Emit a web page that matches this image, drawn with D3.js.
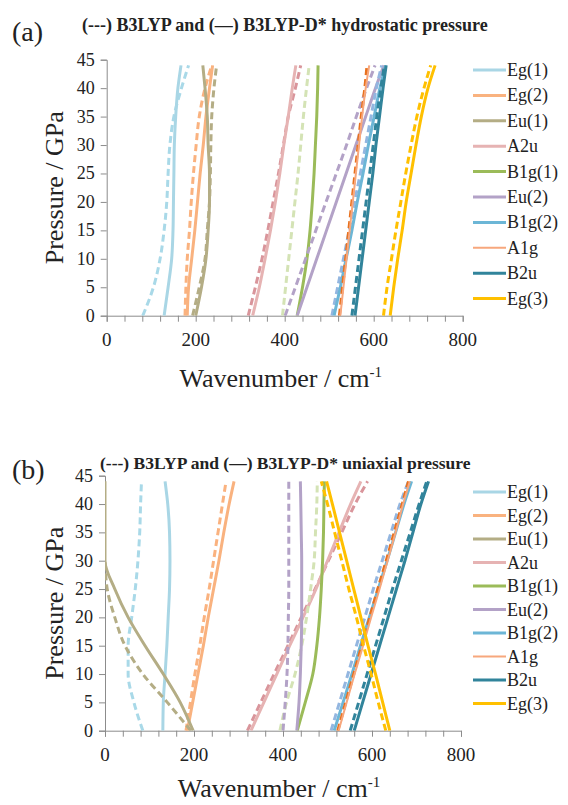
<!DOCTYPE html>
<html>
<head>
<meta charset="utf-8">
<script src="https://cdn.jsdelivr.net/npm/d3@7"></script>
<style>
  body { margin: 0; background: #fff; }
</style>
</head>
<body>
<div id="chart"></div>
<script>
// pressure points (GPa) shared by every mode
var pressures = [0, 5, 10, 15, 20, 25, 30, 35, 40, 44]
var modes = ['Eg(1)', 'Eg(2)', 'Eu(1)', 'A2u', 'B1g(1)', 'Eu(2)', 'B1g(2)', 'A1g', 'B2u', 'Eg(3)']
var xTicks = [0, 200, 400, 600, 800]
var yTicks = [0, 5, 10, 15, 20, 25, 30, 35, 40, 45]

// (a) hydrostatic, B3LYP (dashed)
var hydroB3LYP = [
  [81, 105, 120, 129, 135, 138, 142, 151, 168, 184],
  [176, 178, 181, 186, 190, 195, 201, 208, 221, 236],
  [193, 208, 221, 226, 231, 233, 234, 236, 241, 247],
  [318, 334, 349, 362, 374, 386, 397, 408, 424, 436],
  [395, 402, 409, 416, 423, 430, 436, 442, 449, 455],
  [401, 424, 447, 470, 493, 516, 539, 561, 584, 603],
  [506, 519, 532, 545, 557, 570, 582, 594, 606, 618],
  [523, 530, 537, 544, 551, 558, 565, 572, 580, 585],
  [551, 559, 567, 575, 583, 591, 599, 607, 616, 624],
  [622, 630, 640, 650, 661, 672, 684, 697, 713, 728]
]
// (a) hydrostatic, B3LYP-D* (solid)
var hydroD = [
  [129, 138, 146, 149, 150, 151, 152, 155, 160, 167],
  [181, 184, 191, 198, 204, 210, 217, 223, 231, 238],
  [200, 213, 223, 228, 231, 231, 228, 226, 221, 216],
  [328, 343, 356, 368, 379, 389, 398, 408, 417, 425],
  [428, 440, 450, 457, 462, 466, 469, 472, 474, 475],
  [428, 450, 472, 494, 516, 538, 560, 582, 604, 623],
  [511, 525, 538, 551, 563, 576, 588, 601, 614, 627],
  [525, 532, 539, 546, 553, 560, 567, 574, 582, 590],
  [558, 566, 574, 582, 590, 598, 605, 613, 621, 628],
  [637, 645, 654, 664, 673, 684, 695, 707, 722, 738]
]
// (b) uniaxial, B3LYP (dashed)
var uniB3LYP = [
  [85, 65, 52, 52, 60, 68, 74, 78, 80, 82],
  [182, 192, 202, 213, 223, 234, 244, 254, 264, 272],
  [193, 140, 85, 45, 22, 5, 0, null, null, null],
  [320, 350, 380, 411, 441, 472, 502, 532, 562, 590],
  [393, 408, 427, 442, 453, 462, 470, 473, 476, 477],
  [400, 405, 409, 411, 412, 413, 413, 413, 413, 413],
  [508, 527, 546, 565, 584, 603, 623, 643, 663, 682],
  [523, 541, 559, 577, 595, 613, 632, 650, 668, 682],
  [551, 570, 589, 608, 627, 646, 666, 686, 706, 723],
  [631, 614, 598, 581, 565, 548, 532, 516, 500, 486]
]
// (b) uniaxial, B3LYP-D* (solid)
var uniD = [
  [130, 131, 135, 139, 142, 145, 146, 145, 141, 135],
  [185, 197, 209, 221, 232, 244, 256, 267, 279, 290],
  [198, 169, 131, 90, 52, 22, 0, 0, 0, 0],
  [328, 357, 386, 415, 445, 474, 500, 526, 552, 575],
  [432, 450, 467, 476, 482, 486, 489, 491, 492, 493],
  [431, 436, 439, 441, 442, 442, 442, 441, 440, 439],
  [515, 535, 555, 574, 594, 614, 634, 653, 672, 689],
  [525, 543, 561, 580, 598, 617, 635, 653, 670, 685],
  [560, 579, 598, 617, 636, 655, 674, 692, 710, 727],
  [640, 624, 608, 591, 575, 559, 543, 527, 511, 498]
]

var solidColors = ['#a9d6e5', '#f9b27f', '#b4ad85', '#e6b3b3', '#9bbb59', '#b3a2c7', '#6cb6d6', '#f7a77d', '#31849b', '#ffc000']
var dashColors = ['#a9d9e8', '#fab27f', '#b4ad85', '#d9959b', '#d4e3b5', '#b3a2c7', '#93b6e0', '#e8711e', '#31849b', '#ffc000']

var width = 568
var height = 805
var serif = 'Liberation Serif, Times New Roman, DejaVu Serif, serif'

var svg = d3.select('#chart')
  .append('svg')
  .attr('width', width)
  .attr('height', height)

svg.append('rect').attr('width', width).attr('height', height).attr('fill', '#fff')

// every label goes through here so it gets the serif face
function label(parent, size) {
  return parent.append('text')
    .attr('font-family', serif)
    .attr('font-size', size)
    .attr('fill', '#222')
}

function drawPanel(opt) {
  var x = d3.scaleLinear().domain([0, 800]).range([opt.left, opt.left + 356])
  var y = d3.scaleLinear().domain([0, 45]).range([opt.bottom, opt.top])
  var g = svg.append('g')

  // letter + title
  label(g, 28)
    .attr('x', 12)
    .attr('y', opt.letterY)
    .text(opt.letter)
  label(g, opt.titleSize)
    .attr('x', opt.titleX)
    .attr('y', opt.titleY)
    .attr('font-weight', 'bold')
    .text(opt.title)

  // clip so lines sitting on the axis show only half
  g.append('clipPath')
    .attr('id', 'clip' + opt.letter.charAt(1))
    .append('rect')
    .attr('x', opt.left).attr('y', opt.top - 4)
    .attr('width', 360).attr('height', opt.bottom - opt.top + 4)

  // axes
  var xAxis = d3.axisBottom(x).tickValues(d3.range(0, 801, 40)).tickSize(6).tickFormat('')
  var gx = g.append('g').attr('transform', 'translate(0,' + opt.bottom + ')').call(xAxis)
  var yAxis = d3.axisLeft(y).tickValues(yTicks).tickSize(6).tickFormat('')
  var gy = g.append('g').attr('transform', 'translate(' + opt.left + ',0)').call(yAxis)
  ;[gx, gy].forEach(function(a) {
    a.selectAll('path, line').attr('stroke', '#8c8c8c').attr('stroke-width', 1)
  })

  xTicks.forEach(function(d) {
    label(g, 19)
      .attr('x', x(d))
      .attr('y', opt.bottom + 30)
      .attr('text-anchor', 'middle')
      .text(d)
  })

  yTicks.forEach(function(d) {
    label(g, 18)
      .attr('x', opt.left - 12)
      .attr('y', d => 0)
      .attr('y', y(d) + 6)
      .attr('text-anchor', 'end')
      .text(d)
  })

  var xt = label(g, 26)
    .attr('x', x(400) - 4)
    .attr('y', opt.bottom + opt.xTitleGap)
    .attr('text-anchor', 'middle')
  xt.append('tspan').text('Wavenumber / cm')
  xt.append('tspan').attr('dy', -10).attr('font-size', 15).text('-1')

  label(g, 26)
    .attr('transform', 'translate(' + 63 + ',' + y(22.5) + ') rotate(-90)')
    .attr('text-anchor', 'middle')
    .text('Pressure / GPa')

  var line = d3.line()
    .defined(d => d[0] != null)
    .x(d => x(d[0]))
    .y(d => y(d[1]))
    .curve(d3.curveMonotoneY)

  var plot = g.append('g').attr('clip-path', 'url(#clip' + opt.letter.charAt(1) + ')')
  modes.forEach(function(m, i) {
    plot.append('path')
      .datum(opt.dashed[i].map((v, j) => [v, pressures[j]]))
      .attr('d', line)
      .attr('fill', 'none')
      .attr('stroke', dashColors[i])
      .attr('stroke-width', 3)
      .attr('stroke-dasharray', '7,4')
    plot.append('path')
      .datum(opt.solid[i].map((v, j) => [v, pressures[j]]))
      .attr('d', line)
      .attr('fill', 'none')
      .attr('stroke', solidColors[i])
      .attr('stroke-width', i == 7 ? 2 : 3)
  })

  // legend
  var lg = g.append('g')
  modes.forEach(function(m, i) {
    var ly = opt.legendY + i * opt.legendStep
    lg.append('line')
      .attr('x1', 473).attr('x2', 506)
      .attr('y1', ly).attr('y2', ly)
      .attr('stroke', solidColors[i])
      .attr('stroke-width', i == 7 ? 2 : 3)
    label(lg, 18)
      .attr('x', 507)
      .attr('y', ly + 6)
      .text(m)
  })
}

drawPanel({
  letter: '(a)', letterY: 41, titleX: 82, titleY: 31, titleSize: 18,
  title: '(---) B3LYP and (\u2014) B3LYP-D* hydrostatic pressure',
  left: 106.7, top: 59.7, bottom: 315.7, xTitleGap: 71,
  dashed: hydroB3LYP, solid: hydroD,
  legendY: 70, legendStep: 25.4
})

drawPanel({
  letter: '(b)', letterY: 479, titleX: 100, titleY: 469, titleSize: 17.5,
  title: '(---) B3LYP and (\u2014) B3LYP-D* uniaxial pressure',
  left: 105, top: 475.7, bottom: 730.7, xTitleGap: 66,
  dashed: uniB3LYP, solid: uniD,
  legendY: 492, legendStep: 23.5
})
</script>
</body>
</html>
